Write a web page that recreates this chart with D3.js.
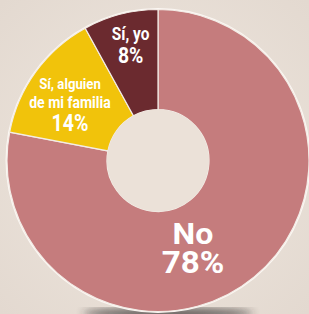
<!DOCTYPE html>
<html>
<head>
<meta charset="utf-8">
<script src="https://cdn.jsdelivr.net/npm/d3@7"></script>
<style>
  body { margin: 0; background: #e9e0d7; }
  svg { display: block; }
  .lbl { fill: #fff; font-family: "Roboto", sans-serif; font-weight: bold; text-anchor: middle; }
</style>
</head>
<body>
<div id="chart"></div>
<script>
// data
var categories = ["No", "Sí, alguien de mi familia", "Sí, yo"];
var values = [78, 14, 8];
var labelLines = [["No", "78%"], ["Sí, alguien", "de mi familia", "14%"], ["Sí, yo", "8%"]];
var colors = ["#c57c7d", "#f1c30b", "#6b2a2f"];

// setup
var svgWidth = 309;
var svgHeight = 314;
var cx = 158, cy = 160.5;
var outerR = 151, innerR = 51;

var svg = d3.select("#chart")
    .append("svg")
    .attr("width", svgWidth)
    .attr("height", svgHeight);

var defs = svg.append("defs");
var bg = defs.append("radialGradient").attr("id", "bg").attr("cx", "50%").attr("cy", "50%").attr("r", "70%");
bg.append("stop").attr("offset", "0%").attr("stop-color", "#efe7df");
bg.append("stop").attr("offset", "100%").attr("stop-color", "#e3d9d0");
defs.append("filter").attr("id", "blur").append("feGaussianBlur").attr("stdDeviation", 4);

svg.append("rect").attr("width", svgWidth).attr("height", svgHeight).attr("fill", "url(#bg)");

// shadow under the donut
svg.append("ellipse")
    .attr("cx", cx + 10).attr("cy", cy + outerR + 2)
    .attr("rx", 85).attr("ry", 5)
    .attr("fill", "#2f2b29")
    .attr("opacity", 0.8)
    .attr("filter", "url(#blur)");

var g = svg.append("g").attr("transform", `translate(${cx}, ${cy})`);

// whitish rim around the ring
g.append("circle").attr("r", outerR + 0.5).attr("fill", "none")
    .attr("stroke", "#fbf7f3").attr("stroke-width", 2);

var pie = d3.pie().sort(null).value(d => d);
var arcs = pie(values);
var arc = d3.arc().innerRadius(innerR).outerRadius(outerR);

g.selectAll("path.slice")
    .data(arcs)
    .enter()
    .append("path")
    .attr("class", "slice")
    .attr("d", arc)
    .attr("fill", (d, i) => colors[i])
    .attr("stroke", "#f3ece6")
    .attr("stroke-width", 1.2);

// hole
g.append("circle").attr("r", innerR).attr("fill", "#ebe1d8");

// labels: angle shift (rad) & radius per slice, then each line's baseline offset, size; one squeeze per label
var labelShift = [0.307, -0.07, 0.017];
var labelRadius = [93.3, 103.8, 118];
var lineOffset = [[-3, 26], [-16.5, 2.5, 25.5], [-5.5, 17.5]];
var fontSizes = [[30, 31], [15.5, 16.5, 23], [17.5, 22]];
var squeeze = [1.07, 0.85, 0.88];

arcs.forEach(function (d, i) {
    var a = (d.startAngle + d.endAngle) / 2 + labelShift[i];
    var x = labelRadius[i] * Math.sin(a);
    var y = -labelRadius[i] * Math.cos(a);
    var t = g.append("text")
        .attr("class", "lbl")
        .attr("transform", `translate(${x}, ${y}) scale(${squeeze[i]}, 1)`);
    labelLines[i].forEach(function (s, j) {
        t.append("tspan")
            .attr("x", 0)
            .attr("y", lineOffset[i][j])
            .style("font-size", fontSizes[i][j] + "px")
            .text(s);
    });
});
</script>
</body>
</html>
